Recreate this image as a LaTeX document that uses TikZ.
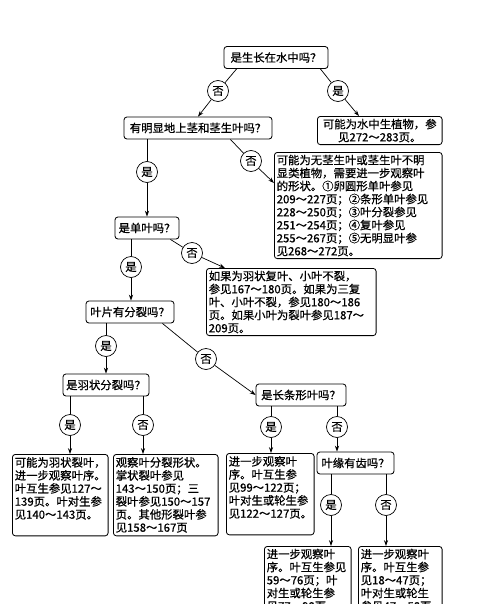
\documentclass[tikz,border=0pt]{standalone}
\usepackage{fontspec}
\usepackage{tikz}
\usetikzlibrary{arrows.meta}
\newfontfamily\cjk{Noto Sans CJK SC}[FakeBold=0.6]

\tikzset{
  ask/.style={draw, rounded corners=2.5pt, line width=0.7pt, inner sep=2pt,
    minimum height=0.66cm, font=\cjk\fontsize{9.7}{11.1}\selectfont},
  info/.style={draw, rounded corners=2.5pt, line width=0.7pt, inner sep=2pt,
    anchor=north west, align=left, font=\cjk\fontsize{9.7}{11.1}\selectfont},
  tall/.style={text height=8.5pt, text depth=57pt},
  yn/.style={draw, circle, line width=0.6pt, minimum size=0.63cm, inner sep=0pt,
    fill=white, font=\cjk\fontsize{9.7}{11.1}\selectfont},
  link/.style={line width=0.6pt},
  >={Stealth[length=5pt,width=3.5pt]}
}

\begin{document}
\begin{tikzpicture}[x=0.03cm, y=-0.03cm]
    \clip (0,0) rectangle (500,604);

    % Questions
    \node[ask, minimum width=3.12cm] (q1) at (276,57.5) {是生长在水中吗？};
    \node[ask, minimum width=4.44cm] (q2) at (198,128) {有明显地上茎和茎生叶吗？};
    \node[ask, minimum width=1.92cm] (q3) at (147,228) {是单叶吗？};
    \node[ask, minimum width=2.64cm] (q4) at (130,312) {叶片有分裂吗？};
    \node[ask, minimum width=2.58cm] (q5) at (106,385) {是羽状分裂吗？};
    \node[ask, minimum width=2.7cm] (q6) at (301,395) {是长条形叶吗？};
    \node[ask, minimum width=2.31cm] (q7) at (355.5,463) {叶缘有齿吗？};

    % Results
    \node[info, text width=3.6cm, align=center] (r1) at (317,116)
        {可能为水中生植物，参\\见272～283页。};
    \node[info, text width=4.89cm] (r2) at (274,152)
        {可能为无茎生叶或茎生叶不明\\显类植物，需要进一步观察叶\\的形状。①卵圆形单叶参见\\209～227页；②条形单叶参见\\228～250页；③叶分裂参见\\251～254页；④复叶参见\\255～267页；⑤无明显叶参\\见268～272页。};
    \node[info, text width=4.95cm] (r3) at (206,268)
        {如果为羽状复叶、小叶不裂，\\参见167～180页。如果为三复\\叶、小叶不裂，参见180～186\\页。如果小叶为裂叶参见187～\\209页。};
    \node[info, tall, text width=2.73cm] (rA) at (12,454)
        {可能为羽状裂叶，\\进一步观察叶序。\\叶互生参见127～\\139页。叶对生参\\见140～143页。};
    \node[info, tall, text width=3.0cm] (rB) at (113,454)
        {观察叶分裂形状。\\掌状裂叶参见\\143～150页；三\\裂叶参见150～157\\页。其他形裂叶参\\见158～167页};
    \node[info, tall, text width=2.49cm] (rC) at (226,453)
        {进一步观察叶\\序。叶互生参\\见99～122页；\\叶对生或轮生参\\见122～127页。};
    \node[info, text width=2.46cm] (rE) at (264,546)
        {进一步观察叶\\序。叶互生参见\\59～76页；叶\\对生或轮生参\\见77～98页。};
    \node[info, text width=2.37cm] (rF) at (358,546)
        {进一步观察叶\\序。叶互生参\\见18～47页；\\叶对生或轮生\\参见47～58页。};

    % Yes / no marks
    \node[yn] (c1) at (218,91) {否};
    \node[yn] (c2) at (338,91) {是};
    \node[yn] (c3) at (147,172) {是};
    \node[yn] (c4) at (251,161) {否};
    \node[yn] (c5) at (131,267) {是};
    \node[yn] (c6) at (192,253) {否};
    \node[yn] (c7) at (106,346) {是};
    \node[yn] (c8) at (206,359) {否};
    \node[yn] (c9) at (70,425) {是};
    \node[yn] (c10) at (143,425) {否};
    \node[yn] (c11) at (271,427) {是};
    \node[yn] (c12) at (337,427) {否};
    \node[yn] (c13) at (331,505) {是};
    \node[yn] (c14) at (386,505) {否};

    % Connectors
    \draw[link] ([xshift=0.39cm]q1.south west) -- (c1);
    \draw[link, ->] (c1) -- (q2.north);
    \draw[link] ([xshift=-0.24cm]q1.south east) -- (c2);
    \draw[link, ->] (c2) -- ([xshift=1.26cm]r1.north west);
    \draw[link] (c3 |- q2.south) -- (c3);
    \draw[link, ->] (c3) -- (q3.north);
    \draw[link] ([xshift=-1.26cm]q2.south east) -- (c4);
    \draw[link, ->] (c4) -- ([yshift=-0.93cm]r2.north west);
    \draw[link] (c5 |- q3.south) -- (c5);
    \draw[link, ->] (c5) -- (c5 |- q4.north);
    \draw[link] ([xshift=-0.27cm]q3.south east) -- (c6);
    \draw[link, ->] (c6) -- ([xshift=0.57cm]r3.north west);
    \draw[link] (c7 |- q4.south) -- (c7);
    \draw[link, ->] (c7) -- (c7 |- q5.north);
    \draw[link] ([xshift=-0.36cm]q4.south east) -- (c8);
    \draw[link, ->] (c8) -- (q6.west);
    \draw[link] (c9 |- q5.south) -- (c9);
    \draw[link, ->] (c9) -- (c9 |- rA.north);
    \draw[link] (c10 |- q5.south) -- (c10);
    \draw[link, ->] (c10) -- (c10 |- rB.north);
    \draw[link] (c11 |- q6.south) -- (c11);
    \draw[link, ->] (c11) -- (c11 |- rC.north);
    \draw[link] (c12 |- q6.south) -- (c12);
    \draw[link, ->] (c12) -- (c12 |- q7.north);
    \draw[link] (c13 |- q7.south) -- (c13);
    \draw[link, ->] (c13) -- (c13 |- rE.north);
    \draw[link] (c14 |- q7.south) -- (c14);
    \draw[link, ->] (c14) -- (c14 |- rF.north);
\end{tikzpicture}
\end{document}
